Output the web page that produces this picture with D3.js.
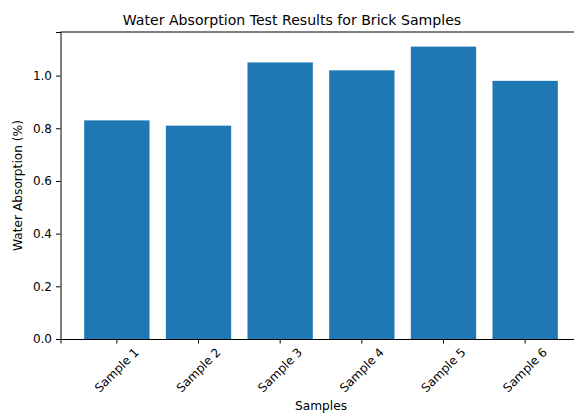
<!DOCTYPE html>
<html>
<head>
<meta charset="utf-8">
<script src="https://cdn.jsdelivr.net/npm/d3@7"></script>
<style>
  body { margin: 0; background: #fff; overflow: hidden; }
  text { font-family: "DejaVu Sans", sans-serif; fill: #000; }
</style>
</head>
<body>
<div id="chart"></div>
<script>
// data
const samples = ["Sample 1", "Sample 2", "Sample 3", "Sample 4", "Sample 5", "Sample 6"];
const absorption = [0.83, 0.81, 1.05, 1.02, 1.11, 0.98];
const yTicks = [0.0, 0.2, 0.4, 0.6, 0.8, 1.0];

const W = 574, H = 413;
// axes box (right edge sits a bit outside the window, like the reference crop)
const m = {left: 60.5, right: 581.5, top: 32, bottom: 339};

const svg = d3.select("#chart").append("svg")
  .attr("width", W)
  .attr("height", H);

const x = d3.scaleBand()
  .domain(samples)
  .range([m.left, m.right])
  .paddingInner(0.2)
  .paddingOuter(0.29);

const y = d3.scaleLinear()
  .domain([0, d3.max(absorption) * 1.05])
  .range([m.bottom, m.top]);

const rows = samples.map((s, i) => ({ name: s, value: absorption[i] }));

// bars
svg.selectAll(".bar")
  .data(rows)
  .enter()
  .append("rect")
  .attr("class", "bar")
  .attr("x", d => x(d.name))
  .attr("y", d => y(d.value))
  .attr("width", x.bandwidth())
  .attr("height", d => m.bottom - y(d.value))
  .attr("fill", "#1f77b4");

// y axis
const yAxis = svg.append("g")
  .attr("transform", `translate(${m.left},0)`)
  .call(d3.axisLeft(y).tickValues(yTicks).tickFormat(d3.format(".1f")).tickSizeOuter(0).tickSize(4.5).tickPadding(4));

// x axis
const xAxis = svg.append("g")
  .attr("transform", `translate(0,${m.bottom})`)
  .call(d3.axisBottom(x).tickSizeOuter(0).tickSize(4.5).tickPadding(4));

[xAxis, yAxis].forEach(a => {
  a.select(".domain").attr("stroke", "#000").attr("stroke-width", 1);
  a.selectAll(".tick line").attr("stroke", "#000").attr("stroke-width", 1);
  a.selectAll(".tick text").style("font-size", "12px").attr("fill", "#000");
});

// rotate x labels 45deg, centred under the tick like matplotlib
xAxis.selectAll(".tick text")
  .attr("text-anchor", "middle")
  .attr("dy", null)
  .attr("y", 0)
  .attr("dominant-baseline", "central")
  .attr("transform", function () {
    const len = this.getComputedTextLength();
    // half height of the rotated text's bounding box
    const hw = (len * Math.SQRT1_2 + 12 * 0.76 * Math.SQRT1_2) / 2;
    return `translate(0,${8 + hw}) rotate(-45)`;
  });

// top spine
svg.append("line")
  .attr("x1", m.left).attr("x2", m.right)
  .attr("y1", m.top).attr("y2", m.top)
  .attr("stroke", "#000").attr("stroke-width", 1);

// title and axis labels
svg.append("text")
  .attr("x", 292)
  .attr("y", 24.5)
  .attr("text-anchor", "middle")
  .style("font-size", "14.1px")
  .text("Water Absorption Test Results for Brick Samples");

svg.append("text")
  .attr("x", (m.left + m.right) / 2)
  .attr("y", 410)
  .attr("text-anchor", "middle")
  .style("font-size", "12.2px")
  .text("Samples");

svg.append("text")
  .attr("transform", `translate(22,${(m.top + m.bottom) / 2}) rotate(-90)`)
  .attr("text-anchor", "middle")
  .style("font-size", "12.2px")
  .text("Water Absorption (%)");
</script>
</body>
</html>
